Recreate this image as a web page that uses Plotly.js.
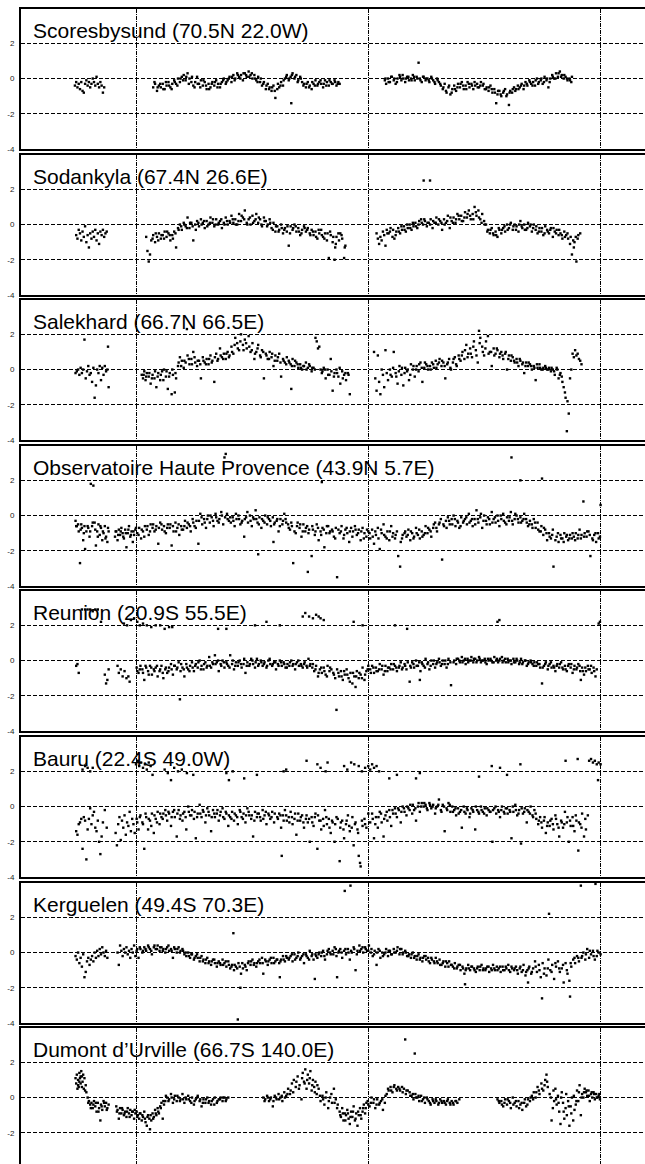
<!DOCTYPE html>
<html><head><meta charset="utf-8">
<script src="https://cdn.plot.ly/plotly-3.0.1.min.js"></script>
<style>html,body{margin:0;padding:0;overflow:hidden;background:#fff}#chart{width:645px;height:1172px}</style>
</head><body><div id="chart"></div>
<script>
// station titles
const stationNames = [
  "Scoresbysund (70.5N 22.0W)",
  "Sodankyla (67.4N 26.6E)",
  "Salekhard (66.7N 66.5E)",
  "Observatoire Haute Provence (43.9N 5.7E)",
  "Reunion (20.9S 55.5E)",
  "Bauru (22.4S 49.0W)",
  "Kerguelen (49.4S 70.3E)",
  "Dumont d\u2019Urville (66.7S 140.0E)"
];
// axis ticks: year boundaries (day number) and anomaly ticks
const yearBoundaryDays = [0, 365, 730];
const yTickValues = [-4, -2, 0, 2];
const yTickLabels = ["-4", "-2", "0", "2"];

// [day, anomaly] pairs
const scoresbysund = [[-96,-0.4],[-94,-0.2],[-92,-0.5],[-90,-0.3],[-88,-0.6],[-86,-0.2],[-84,-0.7],[-82,-0.8],[-80,-0.3],[-78,-0.1],[-76,-0.4],[-74,-0.2],[-72,-0.5],[-70,-0.3],[-68,0.0],[-66,-0.2],[-64,-0.4],[-62,0.1],[-60,-0.3],[-58,-0.5],[-56,-0.2],[-54,-0.4],[-52,-0.8],[-50,-0.5],
[27,-0.5],[30,-0.3],[33,-0.7],[36,-0.4],[39,-0.5],[42,-0.3],[45,-0.6],[48,-0.4],[51,-0.2],[54,-0.5],[57,-0.3],[60,-0.1],[63,-0.3],[66,0.0],[69,-0.2],[72,0.1],[75,0.2],[78,-0.1],[81,0.3],[84,0.0],[87,-0.2],[90,-0.4],
[93,-0.2],[96,0.1],[99,-0.3],[102,-0.1],[105,-0.4],[108,-0.2],[111,-0.6],[114,-0.3],[117,-0.5],[120,-0.2],[123,-0.4],[126,-0.1],[129,-0.3],[132,-0.5],[135,-0.2],[138,0.0],[141,-0.3],[144,-0.1],[147,0.1],[150,-0.2],[153,0.2],
[156,0.0],[159,0.3],[162,0.1],[165,0.2],[168,-0.1],[171,0.3],[174,0.1],[177,0.4],[180,0.2],[183,0.0],[186,0.2],[189,-0.1],[192,0.1],[195,-0.2],[198,-0.4],[201,-0.2],[204,-0.6],[207,-0.3],[210,-0.5],[213,-0.7],[216,-0.4],[219,-1.1],[222,-0.6],[225,-0.5],
[228,-0.2],[231,-0.4],[234,0.0],[237,0.2],[240,-0.1],[243,0.1],[244,-1.4],[246,0.3],[249,0.0],[252,0.2],[255,-0.1],[258,0.1],[261,-0.2],[264,-0.3],[267,-0.5],[270,-0.2],[273,-0.4],[276,-0.6],[279,-0.3],[282,-0.1],[285,-0.4],[288,-0.2],[291,-0.3],[294,-0.5],[297,-0.1],[300,-0.2],[303,-0.4],[306,-0.2],[309,-0.3],[312,-0.1],[315,-0.4],[318,-0.2],
[391,-0.1],[393,-0.3],[396,0.0],[399,-0.2],[402,0.1],[405,-0.1],[408,-0.3],[411,0.0],[414,0.2],[417,-0.1],[420,0.0],[423,-0.2],[426,0.1],[429,-0.1],[432,0.0],[435,0.2],[438,-0.1],[441,0.1],[444,0.9],[446,0.0],[449,-0.2],[452,0.1],[455,-0.1],[458,0.0],[461,-0.2],[464,0.1],[467,-0.1],[470,-0.3],[473,0.0],[476,-0.2],
[479,-0.4],[482,-0.6],[485,-0.3],[488,-0.8],[491,-0.5],[494,-0.9],[497,-0.6],[500,-0.4],[503,-0.7],[506,-0.3],[509,-0.5],[512,-0.2],[515,-0.6],[518,-0.4],[521,-0.2],[524,-0.5],[527,-0.3],[530,-0.6],[533,-0.4],[536,-0.3],[539,-0.5],[542,-0.2],[545,-0.4],[548,-0.6],
[551,-0.5],[554,-0.7],[557,-0.4],[560,-0.8],[563,-0.6],[566,-1.4],[568,-0.9],[571,-0.7],[574,-1.0],[577,-0.8],[580,-0.6],[583,-0.9],[586,-1.5],[588,-0.7],[591,-0.8],[594,-0.5],[597,-0.6],[600,-0.4],
[603,-0.5],[606,-0.3],[609,-0.6],[612,-0.2],[615,-0.4],[618,-0.1],[621,-0.3],[624,-0.2],[627,-0.4],[630,0.0],[633,-0.2],[636,-0.1],[639,-0.3],[642,0.1],[645,-0.1],[648,-0.5],[651,0.0],[654,0.2],[657,0.0],[660,0.3],[663,0.1],[666,0.4],[669,0.2],[672,0.0],[675,0.1],[678,-0.1],[681,0.0],[684,-0.2],
[29,-0.2],[34,-0.5],[38,-0.3],[43,-0.6],[47,-0.2],[52,-0.4],[56,-0.6],[61,-0.2],[65,-0.4],[70,0.0],[74,-0.1],[79,0.1],[83,-0.3],[88,0.1],[92,-0.5],[97,-0.3],[101,-0.5],[106,-0.1],[110,-0.4],[115,-0.6],[119,-0.3],[124,-0.2],[128,-0.5],[133,-0.3],[137,-0.1],[142,-0.2],[146,0.0],[151,0.1],[155,-0.1],[160,0.2],[164,0.0],[169,0.3],[173,0.2],[178,0.1],[182,0.3],[187,0.0],[191,-0.2],[196,0.0],[200,-0.3],[205,-0.4],[209,-0.6],[214,-0.5],[218,-0.7],[223,-0.3],[227,-0.4],[232,-0.1],[236,0.1],[241,0.0],[245,0.2],[250,0.1],[254,-0.2],[259,0.0],[263,-0.4],[268,-0.3],[272,-0.5],[277,-0.2],[281,-0.4],[286,-0.3],[290,-0.1],[295,-0.3],[299,-0.4],[304,-0.1],[308,-0.3],[313,-0.2],[317,-0.3],[320,-0.3],
[392,0.0],[397,-0.2],[401,0.1],[406,0.0],[410,-0.2],[415,0.1],[419,0.2],[424,0.0],[428,0.1],[433,-0.1],[437,0.1],[442,0.0],[447,-0.1],[451,0.1],[456,0.0],[460,-0.1],[465,0.0],[469,-0.2],[474,-0.1],[478,-0.3],[483,-0.5],[487,-0.7],[492,-0.4],[496,-0.8],[501,-0.6],[505,-0.5],[510,-0.3],[514,-0.4],[519,-0.6],[523,-0.3],[528,-0.4],[532,-0.2],[537,-0.5],[541,-0.4],[546,-0.3],[550,-0.6],[555,-0.5],[559,-0.6],[564,-0.8],[569,-0.7],[573,-0.9],[578,-0.7],[582,-1.0],[587,-0.8],[592,-0.6],[596,-0.7],[601,-0.6],[605,-0.4],[610,-0.4],[614,-0.3],[619,-0.2],[623,-0.4],[628,-0.1],[632,-0.3],[637,0.0],[641,-0.2],[646,0.0],[650,-0.2],[655,0.1],[659,0.0],[664,0.3],[668,0.1],[673,0.2],[677,0.0],[682,-0.1],[685,0.1]];

const sodankyla = [[-94,-0.6],[-92,-0.8],[-90,-0.3],[-88,-0.5],[-86,-0.9],[-84,-0.4],[-82,-0.7],[-80,-0.1],[-78,-1.0],[-76,-0.6],[-74,-1.3],[-72,-0.5],[-70,-0.8],[-68,-0.4],[-66,-0.7],[-64,-0.3],[-62,-0.9],[-60,-0.5],[-58,-1.1],[-56,-0.4],[-54,-0.6],[-52,-0.3],[-50,-0.7],[-48,-0.5],[-46,-0.4],
[16,-0.7],[18,-1.5],[20,-2.1],[22,-1.7],[24,-0.9],[27,-0.6],[30,-1.0],[33,-0.7],[36,-0.5],[39,-0.8],[42,-0.6],[45,-0.4],[48,-0.7],[51,-0.5],[54,-0.9],[57,-0.6],[60,-0.4],[63,-1.3],
[66,-0.2],[69,0.0],[72,-0.3],[75,0.1],[78,-0.1],[81,0.4],[84,-0.2],[87,0.1],[90,-0.9],[93,0.0],[96,0.2],[99,-0.1],[102,0.3],[105,0.1],[108,-0.2],
[111,0.2],[114,0.0],[117,0.4],[120,0.1],[123,-0.1],[126,0.3],[129,0.0],[132,0.2],[135,-0.2],[138,0.1],[141,0.4],[144,0.0],[147,0.2],[150,0.5],[153,0.1],[156,0.3],[159,0.0],[162,0.6],[165,0.2],[168,0.4],[171,0.8],[174,0.1],[177,0.3],[180,0.0],[183,0.5],[186,0.2],[189,0.6],[192,0.1],[195,0.3],[198,-0.1],[201,0.4],[204,0.2],[207,0.0],[210,0.3],
[213,-0.2],[216,0.1],[219,-0.4],[222,-0.1],[225,-0.3],[228,0.0],[231,-0.5],[234,-0.2],[237,-0.4],[240,-1.2],[243,-0.1],[246,-0.3],[249,0.0],[252,-0.4],[255,-0.2],[258,-0.6],[261,-0.3],[264,-0.1],[267,-0.4],[270,-0.2],[273,-0.5],[276,-0.3],
[279,-0.6],[282,-0.4],[285,-0.8],[288,-0.5],[291,-0.3],[294,-0.7],[297,-0.5],[300,-0.9],[303,-1.9],[305,-0.4],[306,-0.6],[309,-1.0],[312,-2.0],[313,-1.3],[315,-0.7],[318,-0.5],[321,-0.5],[324,-0.8],[327,-1.9],[328,-1.3],[329,-1.2],
[452,2.5],[462,2.5],
[378,-0.5],[380,-0.8],[382,-1.1],[384,-0.7],[386,-0.9],[388,-0.4],[390,-0.6],[392,-1.2],
[394,-0.3],[397,-0.5],[400,-0.2],[403,-0.7],[406,-0.8],[409,-0.4],[412,-0.2],[415,-0.5],[418,-0.3],[421,-0.1],[424,-0.4],[427,-0.2],[430,0.0],[433,-0.3],[436,-0.1],[439,0.1],[442,-0.2],[445,0.2],
[448,0.3],[451,0.0],[454,0.2],[457,-0.1],[460,0.1],[463,0.3],[466,-0.2],[469,0.1],[472,0.4],[475,0.0],[478,0.2],[481,-0.3],[484,0.3],[487,0.1],[490,0.5],[493,-0.2],[496,0.2],
[499,0.4],[502,0.1],[505,0.6],[508,0.3],[511,0.5],[514,0.2],[517,0.7],[520,0.4],[523,0.8],[526,0.3],[529,0.6],[532,1.0],[535,0.5],[538,0.8],[541,0.3],[544,0.6],[547,0.2],
[550,0.0],[553,-0.3],[556,-0.5],[559,-0.2],[562,-0.6],[565,-0.4],[568,-0.7],[571,-0.3],[574,-0.5],[577,-0.2],[580,-0.4],
[583,0.0],[586,-0.2],[589,0.1],[592,-0.3],[595,0.0],[598,-0.1],[601,-0.4],[604,0.2],[607,-0.2],[610,0.0],[613,-0.3],[616,0.1],[619,-0.1],[622,-0.4],[625,0.0],
[628,-0.3],[631,-0.5],[634,-0.2],[637,-0.4],[640,-0.6],[643,-0.1],[646,-0.3],[649,-0.5],[652,-0.2],[655,-0.7],[658,-0.4],[661,-0.3],[664,-0.6],[667,-0.5],[670,-0.8],[673,-0.4],[676,-0.6],
[679,-0.8],[682,-1.1],[685,-1.7],[687,-0.9],[688,-1.3],[691,-0.7],[692,-2.1],[695,-0.6],[698,-0.5],
[26,-0.8],[31,-0.5],[35,-0.9],[40,-0.6],[44,-0.8],[49,-0.4],[53,-0.6],[58,-0.8],[62,-0.5],[67,-0.3],[71,-0.1],[76,0.0],[80,-0.2],[85,0.1],[89,-0.1],[94,-0.3],[98,0.1],[103,0.0],[107,0.2],[112,-0.1],[116,0.1],[121,0.3],[125,0.0],[130,0.1],[134,0.3],[139,0.0],[143,0.2],[148,0.1],[152,0.3],[157,0.0],[161,0.2],[166,0.5],[170,0.3],[175,0.0],[179,0.4],[184,0.1],[188,0.3],[193,0.4],[197,0.0],[202,0.2],[206,-0.1],[211,0.1],[215,-0.3],[220,-0.1],[224,-0.4],[229,-0.2],[233,-0.3],[238,-0.1],[242,-0.5],[247,-0.2],[251,-0.1],[256,-0.4],[260,-0.5],[265,-0.2],[269,-0.3],[274,-0.6],[278,-0.4],[283,-0.7],[287,-0.3],[292,-0.6],[296,-0.8],[301,-0.5],[310,-0.7],[314,-1.1],[319,-0.9],[323,-0.6],
[395,-0.5],[399,-0.4],[404,-0.3],[408,-0.6],[413,-0.4],[417,-0.1],[422,-0.3],[426,0.0],[431,-0.2],[435,0.1],[440,-0.1],[444,0.0],[449,0.1],[453,0.3],[458,0.1],[462,0.0],[467,0.2],[471,0.1],[476,0.3],[480,0.1],[485,0.0],[489,0.2],[494,0.4],[498,0.1],[503,0.3],[507,0.5],[512,0.2],[516,0.4],[521,0.6],[525,0.5],[530,0.3],[534,0.7],[539,0.4],[543,0.1],[548,0.0],[552,-0.4],[557,-0.3],[561,-0.5],[566,-0.6],[570,-0.2],[575,-0.3],[579,-0.1],[584,-0.3],[588,0.0],[593,-0.1],[597,-0.3],[602,0.0],[606,-0.1],[611,-0.3],[615,-0.2],[620,0.0],[624,-0.2],[629,-0.1],[633,-0.4],[638,-0.2],[642,-0.5],[647,-0.4],[651,-0.3],[656,-0.2],[660,-0.5],[665,-0.3],[669,-0.6],[674,-0.7],[678,-0.5],[683,-0.7],[689,-1.0],[694,-0.8]];

const salekhard = [[-95,-0.2],[-93,-0.1],[-91,0.0],[-89,-0.3],[-87,0.1],[-85,-0.2],[-83,0.0],[-81,1.7],[-79,-0.5],[-77,-0.1],[-75,0.2],[-73,-0.3],[-71,-0.2],[-69,-0.7],[-67,0.1],[-65,-1.6],[-63,-0.9],[-61,0.0],[-59,-0.2],[-57,0.2],[-55,-0.6],[-53,0.1],[-51,-0.3],[-49,0.2],[-47,-0.1],[-45,0.0],[-44,1.3],[-43,-1.0],
[9,-0.3],[11,-0.5],[13,-0.1],[15,-0.6],[17,-0.2],[20,-0.4],[23,-0.8],[26,-0.3],[29,-0.5],[32,-1.0],[35,-0.2],[38,-0.6],[41,-0.1],[44,0.0],[47,-0.4],[50,-1.1],[53,-0.2],[56,-1.4],[58,-0.3],[61,-1.3],[63,-0.5],
[66,0.2],[69,0.7],[72,0.5],[75,0.1],[78,0.4],[80,2.3],[81,0.8],[84,0.3],[87,0.6],[90,1.0],[93,0.4],[96,0.2],
[99,0.5],[102,-0.5],[105,0.7],[108,0.4],[111,0.6],[114,0.3],[117,0.8],[120,0.5],[123,-0.7],[126,0.9],[129,0.6],[132,1.2],[135,0.7],[138,0.9],[141,0.6],[144,1.0],[147,0.8],
[150,1.3],[153,0.9],[156,1.8],[159,1.5],[162,1.1],[165,2.0],[168,1.4],[171,1.7],[174,1.2],[177,1.9],[180,1.0],[183,1.5],[186,0.6],
[189,1.0],[192,1.4],[195,0.8],[198,1.1],[201,-0.5],[204,0.9],[207,0.6],[210,1.0],[213,0.7],[216,0.2],[219,0.8],[222,0.5],[225,0.9],[228,-0.4],[231,0.6],[234,0.4],[237,0.7],
[240,0.5],[243,0.3],[244,-1.1],[246,0.6],[249,0.2],[252,0.4],[255,0.1],[258,0.3],[261,0.0],[264,0.2],[267,0.4],[270,0.1],[273,0.2],[276,-0.1],[279,0.1],[282,1.8],[284,1.6],[286,1.2],[288,1.3],[290,0.0],
[292,-0.2],[295,0.1],[298,-0.5],[301,0.0],[304,-0.3],[306,0.6],[309,-1.2],[312,-0.2],[315,0.0],[318,-0.4],[321,-0.8],[324,-0.1],[327,-0.3],[330,-0.6],[333,-0.2],[336,-1.4],
[374,1.0],[376,-0.5],[378,-1.2],[380,0.8],[382,-0.7],[384,-1.4],[386,0.0],[388,-0.3],[390,-1.0],[392,1.1],[394,-0.2],[396,-0.6],[399,0.0],[402,-0.4],[405,1.0],[408,-0.2],[411,-0.8],[414,0.2],[417,-0.3],[420,-0.9],[423,0.1],[426,-0.1],[429,-0.6],[432,0.3],[435,0.0],[438,-0.4],[441,0.2],[444,-0.1],[447,0.4],[450,-0.7],[453,0.1],[456,0.3],[459,0.0],[462,0.2],
[465,0.4],[468,0.1],[471,0.5],[474,0.3],[477,0.6],[480,0.2],[483,0.4],[486,-0.5],[489,0.3],[492,0.6],[495,0.0],[498,0.4],[501,0.7],[504,0.2],
[507,0.8],[510,0.5],[513,1.0],[516,0.6],[519,1.4],[522,0.9],[525,1.2],[528,0.7],[531,1.6],[534,1.1],[537,0.4],[539,2.2],[541,1.8],[544,1.3],[547,0.8],[550,1.6],[553,1.9],[556,1.0],[559,0.2],[562,1.2],
[565,0.9],[568,1.1],[571,0.7],[574,1.0],[577,0.6],[580,0.9],[583,0.0],[586,0.8],[589,0.5],[592,0.7],
[595,0.4],[598,0.6],[601,0.2],[604,0.5],[607,0.3],[610,-0.2],[613,0.4],[616,0.2],[619,0.3],[622,0.0],[625,0.2],[628,-0.6],[631,0.1],[634,0.3],[637,0.0],[640,0.1],[643,0.2],[646,0.0],[649,0.1],[652,-0.1],
[655,0.0],[658,-0.3],[661,0.1],[664,-0.5],[667,-0.2],[670,-0.7],[672,-1.0],[674,-1.3],[675,-1.6],[677,-3.5],[678,-1.8],[680,-2.5],[682,-0.5],[684,0.0],[686,0.9],[688,0.7],[690,1.1],[692,0.8],[694,0.9],[696,0.6],[698,0.5],[700,0.3],
[12,-0.3],[16,-0.4],[21,-0.2],[25,-0.5],[30,-0.1],[34,-0.4],[39,-0.3],[43,-0.6],[48,-0.1],[52,-0.4],[57,0.0],[62,-0.2],[67,0.4],[71,0.2],[76,0.5],[83,0.6],[88,0.3],[92,0.7],[97,0.5],[101,0.3],[106,0.5],[110,0.3],[115,0.6],[119,0.4],[124,0.7],[128,0.5],[133,0.8],[137,0.6],[142,0.9],[146,0.7],[151,1.0],[155,1.4],[160,1.2],[164,1.6],[169,1.1],[173,1.5],[178,1.3],[182,1.1],[187,0.9],[191,1.2],[196,0.7],[200,1.0],[205,0.8],[209,0.6],[214,0.9],[218,0.5],[223,0.7],[227,0.4],[232,0.5],[236,0.3],[241,0.4],[245,0.2],[250,0.5],[254,0.3],[259,0.1],[263,0.2],[268,0.0],[272,0.3],[277,0.1],[281,0.0],[293,-0.1],[297,0.0],[302,-0.3],[307,-0.1],[311,-0.4],[316,-0.2],[320,0.1],[325,-0.5],[329,-0.2],[334,-0.3],
[400,-0.3],[404,0.1],[409,-0.4],[413,-0.1],[418,0.1],[422,-0.2],[427,0.0],[431,-0.3],[436,0.2],[440,0.0],[445,0.3],[449,0.1],[454,0.4],[458,0.2],[463,0.0],[467,0.3],[472,0.1],[476,0.4],[481,0.5],[485,0.2],[490,0.4],[494,0.1],[499,0.6],[503,0.3],[508,0.6],[512,0.8],[517,1.1],[521,0.7],[526,0.9],[530,1.3],[535,0.8],[540,1.5],[545,1.0],[549,1.2],[554,0.9],[558,1.0],[563,0.8],[567,1.2],[572,0.9],[576,0.8],[581,1.0],[585,0.6],[590,0.8],[594,0.5],[599,0.4],[603,0.6],[608,0.4],[612,0.2],[617,0.4],[621,0.2],[626,0.1],[630,0.3],[635,0.1],[639,0.0],[644,0.1],[648,0.0],[653,0.1],[657,-0.1],[662,0.0],[666,-0.3],[669,-0.4]];

const hauteProvence = [[-95,-0.3],[-93,-0.6],[-88,-2.7],[-91,-0.5],[-87,-0.8],[-85,-0.7],[-83,-1.4],[-81,-0.6],[-80,-1.9],[-78,-0.9],[-71,1.8],[-67,1.7],[-75,-0.7],[-73,-1.2],[-69,-0.6],[-65,-0.4],[-63,-1.7],[-61,-0.9],[-59,-0.5],[-57,-1.1],[-55,-0.7],[-53,-1.4],[-51,-1.0],[-49,-0.6],[-47,-1.2],[-45,-1.5],[-43,-0.9],
[-33,-1.2],[-31,-0.9],[-29,-1.4],[-27,-0.8],[-25,-1.1],[-23,-0.7],[-21,-1.0],[-19,-1.3],[-17,-0.8],[-15,-1.8],[-13,-1.0],[-11,-0.6],[-9,-1.2],[-7,-0.9],[-5,-1.5],[-3,-1.1],[-1,-0.8],
[2,-1.0],[5,-0.7],[8,-1.3],[11,-0.9],[14,-0.6],[17,-0.8],[20,-1.1],[23,-0.5],[26,-0.7],[29,-0.9],[32,-0.6],[35,-1.6],[38,-0.4],[41,-0.8],[44,-0.6],[47,-1.0],[50,-0.5],[53,-0.7],[56,-1.7],[59,-0.9],[62,-0.4],[65,-0.7],[68,-1.1],[71,-0.6],[74,-0.8],[77,-0.3],[80,-0.7],[83,-0.5],
[86,-0.9],[89,-0.2],[92,-0.6],[95,-0.3],[98,-1.6],[101,0.1],[104,-0.5],[107,-0.2],[110,-0.7],[113,0.0],[116,-0.4],[119,-0.1],[122,-0.6],[125,0.1],[128,-0.3],[131,-0.2],[134,0.2],[137,-0.5],[140,-0.1],[143,0.1],[146,-0.3],[139,3.3],[141,3.5],
[149,-0.4],[152,-0.1],[155,-0.6],[158,-0.2],[161,0.0],[164,-0.5],[167,-0.3],[170,-1.2],[173,-0.1],[176,-0.4],[179,0.0],[182,-0.6],[185,-0.2],[188,0.3],[191,-0.4],[192,-2.2],[194,-0.1],[197,-0.7],[200,-0.3],[203,0.0],[206,-0.5],[209,-0.2],[212,-0.6],[215,-0.1],[216,-1.5],[218,-0.4],[221,-0.3],[224,-0.9],[227,-0.2],[230,-0.5],[233,0.1],[236,-0.4],
[239,-0.5],[242,-0.8],[247,-2.7],[245,-0.6],[251,-1.0],[254,-0.4],[257,-0.7],[260,-1.2],[263,-0.5],[270,-3.2],[266,-0.9],[269,-0.6],[276,-2.3],[272,-0.8],[278,-0.8],[281,-1.1],[284,-0.5],[287,-1.4],[290,-0.9],[292,1.9],[293,-0.7],[296,-1.8],[299,-1.0],[302,-0.6],[305,-0.9],[308,-0.8],[311,-1.2],[314,-0.7],[316,-3.5],[320,-1.0],[323,-0.6],[326,-1.3],[329,-0.8],[332,-1.0],[335,-1.5],[338,-0.7],[341,-0.9],[344,-0.6],[347,-1.1],[350,-0.8],[353,-1.4],[356,-0.7],[359,-1.0],[362,-1.2],[365,-0.9],
[368,-1.3],[371,-0.8],[374,-1.6],[377,-1.1],[380,-0.7],[383,-1.9],[386,-1.0],[389,-0.5],[392,-1.2],[395,-0.9],[398,-1.4],[401,-0.6],[404,-1.0],[407,-1.3],[412,-2.3],[410,-0.9],[415,-2.9],[416,-1.5],[419,-1.1],[422,-1.0],[425,-1.2],[428,-0.8],[431,-1.4],[434,-1.0],[437,-1.2],[440,-0.7],[443,-1.1],[446,-1.3],[449,-0.9],[452,-1.1],[455,-0.6],[458,-1.0],[461,-0.8],[464,-1.2],
[467,-0.7],[470,-0.4],[473,-0.9],[476,-0.5],[479,-0.2],[481,-2.5],[484,-0.6],[487,-0.3],[490,-0.1],[493,-0.5],[496,-0.2],[499,0.0],[502,-0.6],[505,-0.3],[508,-0.7],[511,-0.1],[514,-0.4],[517,-0.2],[520,-0.5],[523,0.1],[526,-0.3],[529,-0.6],
[532,-0.2],[535,0.3],[538,-0.4],[541,-0.1],[544,-0.7],[547,0.0],[550,-0.3],[553,-0.1],[556,-0.5],[559,0.2],[562,-0.2],[565,-0.4],[568,0.0],[571,-0.6],[574,-0.2],[577,0.1],[580,-0.4],[583,-0.1],[586,-0.3],[589,0.2],[592,-0.5],[595,-0.2],[598,0.0],[601,-0.4],[604,-0.1],[607,-0.3],[610,0.1],[613,-0.2],[616,-0.6],[619,-0.3],
[590,3.3],[604,2.0],[638,2.1],
[622,-0.5],[625,-0.2],[628,-0.7],[631,-0.4],[634,-0.9],[637,-0.6],[640,-1.1],[643,-0.8],[646,-1.4],[649,-1.0],[652,-1.3],[655,-0.8],[656,-2.9],[661,-1.2],[664,-1.5],[667,-1.1],[670,-1.3],[673,-1.0],[676,-1.2],[679,-1.4],[682,-1.1],[685,-1.3],[688,-1.2],[691,-1.0],[694,-1.3],[697,-0.8],[700,-1.1],[703,0.8],[705,-1.0],[708,-1.2],[714,-2.3],[711,-0.9],[717,-1.3],[720,-1.1],[723,-1.5],[726,-1.0],[729,-1.2],[730,0.6],
[-94,-0.6],[-90,-0.9],[-86,-0.5],[-82,-1.0],[-76,-0.6],[-72,-0.9],[-68,-0.4],[-64,-0.8],[-60,-1.2],[-56,-0.6],[-52,-0.9],[-48,-1.3],[-44,-0.7],[-32,-0.9],[-28,-1.1],[-24,-0.9],[-20,-1.2],[-16,-1.0],[-12,-0.8],[-8,-1.1],[-4,-0.9],[0,-0.7],[4,-1.1],[9,-0.8],[13,-1.2],[18,-0.6],[22,-0.9],[27,-0.5],[31,-0.8],[36,-0.7],[40,-0.5],[45,-0.9],[49,-0.7],[54,-0.5],[58,-0.6],[63,-0.9],[67,-0.5],[72,-0.8],[76,-0.6],[81,-0.4],[85,-0.6],[90,-0.4],[94,-0.7],[99,-0.3],[103,-0.1],[108,-0.4],[112,-0.2],[117,0.0],[121,-0.3],[126,-0.1],[130,-0.4],[135,0.0],[144,-0.2],[148,-0.1],[153,-0.3],[157,0.1],[162,-0.2],[166,-0.4],[171,-0.2],[175,0.2],[180,-0.3],[184,-0.1],[189,-0.2],[193,-0.5],[198,-0.2],[202,-0.4],[207,-0.1],[211,-0.3],[217,-0.5],[222,-0.2],[226,-0.6],[231,-0.3],[235,-0.2],[240,-0.7],[244,-0.4],[249,-0.9],[253,-0.6],[258,-0.5],[262,-0.9],[267,-0.7],[271,-1.0],[277,-0.6],[282,-0.9],[286,-0.7],[291,-1.1],[295,-0.8],[300,-0.6],[304,-1.0],[309,-0.9],[313,-1.3],[318,-0.8],[322,-0.9],[327,-1.1],[331,-0.7],[336,-0.9],[340,-1.2],[345,-0.8],[349,-1.0],[354,-0.9],[358,-1.3],[363,-0.8],[367,-1.0],[372,-1.2],[376,-0.9],[381,-1.3],[385,-0.8],[390,-1.1],[394,-1.3],[399,-0.9],[403,-1.2],[408,-1.1],[418,-1.3],[423,-0.9],[427,-1.1],[432,-0.9],[436,-1.3],[441,-1.0],[445,-0.8],[450,-1.2],[454,-1.0],[459,-0.7],[463,-0.9],[468,-0.5],[472,-0.7],[477,-0.4],[483,-0.5],[488,-0.7],[492,-0.3],[497,-0.5],[501,-0.2],[506,-0.4],[510,-0.6],[515,-0.3],[519,-0.1],[524,-0.4],[528,-0.2],[533,-0.5],[537,-0.2],[542,0.1],[546,-0.3],[551,-0.5],[555,-0.2],[560,-0.4],[564,-0.1],[569,-0.3],[573,0.0],[578,-0.3],[582,-0.5],[587,-0.1],[591,-0.3],[596,0.1],[600,-0.2],[605,-0.4],[609,-0.2],[614,-0.4],[618,-0.5],[623,-0.7],[627,-0.4],[632,-0.8],[636,-0.9],[641,-0.7],[645,-1.0],[650,-1.2],[654,-1.1],[659,-1.4],[663,-1.0],[668,-1.3],[672,-1.5],[677,-1.1],[681,-1.3],[686,-1.0],[690,-1.4],[695,-1.1],[699,-1.3],[704,-1.2],[709,-0.9],[713,-1.1],[718,-1.4],[722,-1.0],[727,-1.3]];

const reunion = [[-94,-0.3],[-92,-0.2],[-90,-0.7],[-49,-0.8],[-47,-1.3],[-45,-1.1],[-43,-0.5],[-29,-0.3],[-27,-0.7],[-24,-0.5],[-21,-0.9],[-18,-0.6],[-15,-1.0],[-12,-0.9],[-10,-1.2],
[-85,2.9],[-80,2.9],[-76,2.9],[-72,2.9],[-68,2.8],[-64,2.9],[-60,2.9],[-55,2.2],
[-19,2.1],[-14,2.0],[-8,2.3],[-3,2.4],[2,2.2],[6,2.0],[11,2.1],[17,2.0],[24,1.9],[31,2.0],[38,2.0],[45,1.8],[52,1.9],[57,1.9],
[129,1.8],[142,1.8],[187,2.0],[205,2.2],[226,2.0],[262,2.5],[266,2.7],[272,2.5],[278,2.4],[283,2.6],[287,2.5],[290,2.4],[295,2.3],[342,2.2],[356,2.0],[407,2.0],[426,1.8],[568,2.2],[571,2.3],[727,2.1],[729,2.2],
[1,-0.4],[4,-0.7],[7,-0.3],[10,-0.5],[13,-1.1],[16,-0.4],[19,-0.6],[22,-0.3],[25,-0.8],[28,-0.5],[31,-0.4],[34,-0.9],[37,-0.6],[40,-0.3],[43,-1.0],[46,-0.5],[49,-0.7],[52,-0.4],[55,-0.2],[58,-0.8],[61,-0.3],[64,-0.5],[67,-0.1],[69,-2.2],[70,-0.6],[73,-0.4],[76,-0.9],[79,-0.2],[82,-0.5],
[85,-0.3],[88,-0.1],[91,-0.6],[94,-0.2],[97,-0.4],[100,0.0],[103,-0.3],[106,-0.5],[109,-0.1],[112,-0.3],[115,0.2],[118,-0.4],[121,-0.2],[124,0.3],[127,-0.1],[130,-0.6],[133,-0.2],[136,0.0],[139,-0.4],[142,-0.1],[145,-0.3],[148,0.3],[151,-0.2],[154,-0.5],[157,-0.1],[160,-0.3],[163,0.0],[166,-0.4],[169,-0.2],[172,-0.7],[175,-0.1],[178,-0.3],[181,0.1],[184,-0.2],[187,-0.4],
[190,0.1],[193,-0.2],[196,0.0],[199,-0.3],[202,-0.1],[205,-0.4],[208,0.0],[211,-0.2],[214,-0.3],[217,-0.1],[220,-0.5],[223,-0.2],[226,0.0],[229,-0.3],[232,-0.1],[235,-0.4],[238,-0.2],[241,-0.3],[244,0.0],[247,-0.2],[250,-0.5],[253,-0.1],[256,-0.3],[259,-0.2],[262,-0.4],[265,-0.1],[268,-0.3],[271,0.1],[274,-0.2],[277,-0.4],
[280,-0.6],[283,-0.3],[286,-0.9],[289,-0.5],[292,-0.7],[295,-0.4],[298,-0.8],[301,-0.3],[304,-0.6],[307,-0.5],
[310,-0.7],[313,-1.0],[315,-2.8],[316,-0.5],[319,-0.9],[322,-0.6],[325,-1.1],[328,-0.8],[331,-0.5],[334,-1.0],[337,-0.7],[340,-1.3],[343,-0.9],[345,-1.5],[347,-0.6],[350,-1.0],[353,-0.8],[356,-0.4],[359,-1.1],[362,-0.6],[365,-0.3],
[368,-0.5],[371,-0.3],[374,-0.7],[377,-0.4],[380,-0.6],[383,-0.2],[386,-0.5],[389,-0.8],[392,-0.3],[395,-0.6],[398,-0.4],[401,-0.2],[404,-0.5],[407,-0.3],[410,-0.6],[413,-0.4],[416,-0.1],[419,-0.4],[422,-0.2],[425,-0.5],[430,-1.2],[431,-0.3],[434,-0.1],[437,-0.4],[440,0.0],[443,-0.3],[446,-1.1],[447,-0.6],[449,-0.1],[452,-0.3],[455,0.1],[458,-0.2],[461,-0.5],[464,0.0],[467,-0.2],[470,-0.4],[473,-0.1],[476,0.1],[479,-0.3],[482,0.0],[485,-0.2],[488,-0.4],[491,0.1],[494,-0.1],[495,-1.4],
[500,0.0],[503,-0.2],[506,0.1],[509,-0.1],[512,0.2],[515,0.0],[518,-0.2],[521,0.1],[524,0.0],[527,0.2],[530,-0.1],[533,0.1],[536,0.0],[539,0.2],[542,-0.1],[545,0.0],[548,0.1],[551,-0.2],[554,0.0],[557,0.1],[560,-0.1],[563,0.2],[566,0.0],[569,-0.1],[572,0.1],[575,0.2],[578,0.0],[581,-0.1],[584,0.1],[587,0.0],[590,-0.2],[593,0.1],[596,-0.1],[599,0.0],[602,-0.2],[605,0.1],[608,-0.1],[611,0.0],[614,-0.3],[617,-0.1],[620,0.0],[623,-0.2],[626,-0.1],[629,-0.3],
[632,-0.2],[635,-0.4],[638,-1.3],[641,-0.3],[644,-0.1],[647,-0.5],[650,-0.2],[653,-0.4],[656,-0.3],[659,-0.6],[662,-0.2],[665,-0.4],[668,-0.1],[671,-0.5],[674,-0.3],[677,-0.6],[680,-0.2],[683,-0.4],[686,-0.7],[689,-0.3],[692,-0.5],[695,-0.2],[698,-0.6],[699,-1.1],[701,-0.4],[704,-0.8],[707,-0.6],[710,-0.3],[713,-0.5],[716,-0.7],[719,-0.4],[722,-0.9],[724,-0.5],
[2,-0.6],[6,-0.5],[11,-0.7],[15,-0.3],[20,-0.8],[24,-0.4],[29,-0.6],[33,-0.3],[38,-0.5],[42,-0.7],[47,-0.4],[51,-0.6],[56,-0.5],[60,-0.3],[65,-0.4],[71,-0.2],[75,-0.5],[80,-0.4],[84,-0.6],[89,-0.4],[93,-0.3],[98,-0.1],[102,-0.5],[107,-0.2],[111,-0.4],[116,-0.3],[120,-0.1],[125,-0.2],[129,0.0],[134,-0.3],[138,-0.1],[143,-0.2],[147,-0.4],[152,0.0],[156,-0.3],[161,-0.1],[165,-0.2],[170,0.1],[174,-0.3],[179,-0.2],[183,0.0],[188,-0.1],[192,-0.3],[197,-0.1],[201,-0.2],[206,-0.3],[210,0.1],[215,-0.2],[219,-0.1],[224,-0.3],[228,-0.1],[233,-0.2],[237,-0.4],[242,-0.1],[246,-0.3],[251,-0.2],[255,0.0],[260,-0.3],[264,-0.2],[269,-0.4],[273,-0.3],[278,-0.2],[282,-0.5],[287,-0.7],[291,-0.4],[296,-0.6],[300,-0.9],[305,-0.4],[311,-0.8],[318,-0.7],[323,-0.9],[327,-0.6],[332,-0.8],[336,-1.2],[341,-0.7],[346,-0.9],[351,-0.7],[355,-1.0],[360,-0.8],[364,-0.5],[369,-0.7],[373,-0.4],[378,-0.6],[382,-0.5],[387,-0.3],[391,-0.6],[396,-0.4],[400,-0.5],[405,-0.2],[409,-0.4],[414,-0.3],[418,-0.5],[423,-0.3],[427,-0.1],[432,-0.4],[436,-0.2],[441,-0.3],[445,-0.1],[450,-0.2],[454,-0.4],[459,-0.1],[463,-0.3],[468,0.0],[472,-0.2],[477,-0.1],[481,-0.2],[486,0.0],[490,-0.2],[499,-0.1],[504,0.1],[508,0.0],[513,-0.1],[517,0.1],[522,-0.1],[526,0.0],[531,0.1],[535,-0.1],[540,0.1],[544,0.0],[549,-0.1],[553,0.1],[558,0.0],[562,-0.1],[567,0.1],[571,0.0],[576,-0.1],[580,0.1],[585,-0.1],[589,0.0],[594,-0.1],[598,0.1],[603,-0.1],[607,-0.2],[612,0.0],[616,-0.2],[621,-0.1],[625,-0.3],[630,-0.1],[634,-0.2],[639,-0.4],[643,-0.2],[648,-0.3],[652,-0.1],[657,-0.4],[661,-0.3],[666,-0.2],[670,-0.4],[675,-0.5],[679,-0.3],[684,-0.2],[688,-0.5],[693,-0.4],[697,-0.3],[702,-0.6],[706,-0.4],[711,-0.5],[715,-0.3],[720,-0.6]];

const bauru = [[-94,-1.4],[-92,-1.6],[-90,-1.0],[-88,-0.9],[-86,-0.7],[-84,-2.4],[-82,-0.6],[-80,-0.8],[-78,-3.0],[-76,-1.3],[-74,-0.7],[-72,-0.1],[-70,-1.0],[-68,-0.5],[-66,-0.3],[-64,-1.2],[-62,-1.4],[-60,-0.8],[-58,-2.0],[-56,-2.7],[-54,-1.7],[-52,-0.9],[-49,-0.2],[-46,-1.2],
[-32,-1.5],[-30,-2.2],[-28,-1.0],[-26,-0.6],[-24,-1.9],[-22,-0.8],[-20,-1.2],[-18,-0.5],[-16,-1.6],[-14,-0.9],[-12,-1.1],[-10,-0.3],[-8,-1.4],[-6,-0.7],[-4,-1.0],[-2,-1.5],
[1,-0.7],[4,-1.3],[7,-0.5],[10,-0.9],[13,-2.4],[16,-0.6],[19,-1.3],[22,-0.8],[25,-0.4],[28,-1.5],[31,-0.7],[34,-0.3],[37,-1.0],[40,-0.6],[43,-0.4],
[46,-0.2],[49,-0.8],[52,-0.4],[55,-1.1],[58,-0.3],[61,-0.6],[64,-1.7],[67,-0.2],[70,-0.5],[73,-0.8],[76,-0.3],[79,-1.3],[82,0.0],[85,-0.5],[88,-0.2],[91,-0.7],[94,-1.8],[97,-0.4],[100,0.1],[103,-0.6],[106,-0.3],[109,-0.9],[112,-0.1],[115,-0.5],[118,-1.4],[121,-0.2],[124,-0.6],[127,-0.4],[130,-0.8],[133,-0.3],[136,-0.1],[139,-0.7],[142,-0.4],[145,-1.1],
[148,-0.6],[151,-0.3],[154,-0.8],[157,-0.5],[160,-1.0],[163,-0.2],[166,-0.6],[169,-0.4],[172,-0.9],[175,-0.1],[178,-0.5],[181,-0.7],[184,-1.7],[187,-0.3],[190,-0.6],[193,-0.4],[196,-0.8],[199,-0.2],[202,-0.5],[205,-1.0],[208,-0.4],[211,-0.7],[214,-0.3],[217,-0.9],[229,-2.8],[222,-0.6],[225,-0.4],[228,-1.2],[231,-0.5],[234,-0.2],[237,-0.8],
[240,-0.6],[243,-0.3],[246,-1.0],[249,-0.7],[252,-1.6],[255,-0.4],[258,-0.8],[261,-0.5],[264,-1.2],[267,-0.7],[270,-0.9],[273,-2.0],[276,-0.6],[279,-1.1],[282,-0.4],[285,-2.4],[288,-0.8],[291,-1.3],[294,-0.7],[297,-0.2],[300,-1.0],
[303,-0.7],[306,-1.5],[309,-0.9],[312,-2.0],[315,-0.6],[320,-3.1],[321,-1.2],[324,-0.8],[327,-1.8],[330,-1.0],[333,-0.5],[336,-1.4],[339,-1.2],[342,-2.2],[345,-0.9],[348,-1.3],[350,-2.8],[352,-3.2],[353,-3.4],[356,-1.1],[359,-0.7],[362,-1.2],[365,-0.4],
[-84,2.1],[-80,2.3],[-76,2.2],[-72,2.0],[-68,2.2],
[0,2.4],[3,2.6],[5,2.3],[8,2.5],[11,2.2],[14,2.4],[17,2.1],[20,2.5],[23,2.3],[26,1.8],
[45,2.1],[50,1.9],[55,1.5],[60,2.2],[66,2.0],[72,2.1],[80,1.9],[90,1.8],
[142,1.9],[146,1.5],[152,2.0],[170,1.6],[190,1.8],
[232,2.0],[236,2.1],[268,2.6],[285,2.4],[290,2.2],[301,2.5],[298,2.0],
[327,2.3],[332,2.1],[338,2.5],[343,2.4],[350,2.3],[355,2.0],[360,2.2],
[365,2.3],[368,2.1],[371,2.4],[374,2.2],[378,2.3],[382,2.0],
[398,1.6],[410,1.8],[440,1.6],[446,1.9],
[539,1.7],[559,2.3],[572,2.2],[583,1.8],[604,2.4],
[675,2.6],[694,2.7],[712,2.6],[715,2.7],[718,2.5],[721,2.6],[724,2.4],[727,2.5],[730,2.4],[726,1.5],
[368,-0.9],[371,-0.4],[374,-1.8],[377,-0.6],[380,-1.2],[383,-0.3],[386,-0.9],[389,-1.7],[392,-0.5],[395,-0.8],[398,-0.2],[401,-1.1],[404,-0.4],[407,-0.1],[410,-0.6],[413,-0.2],[416,-0.9],[419,0.0],[422,-0.3],[425,-0.5],[428,-0.1],[431,0.1],[434,-0.4],[437,-0.2],[440,-0.8],[443,0.0],[446,-0.3],
[449,0.2],[452,0.0],[455,0.1],[458,-0.2],[461,0.2],[464,-0.1],[467,0.1],[470,-0.4],[473,0.0],[476,0.4],[479,-0.2],[482,0.1],[485,-1.4],[488,-0.1],[491,0.2],[494,-0.3],[497,0.0],
[500,-0.2],[503,-0.5],[506,-0.1],[509,-0.3],[512,-1.2],[515,0.0],[518,-0.4],[521,-0.2],[524,-0.6],[527,-0.1],[530,-0.3],[533,-1.3],[536,-0.2],[539,-0.4],[542,0.0],[545,-0.3],[548,-0.1],[551,-0.5],[554,-0.2],[557,-0.3],[560,-2.0],[563,-0.1],[566,-0.4],[569,-0.2],[572,-0.6],[575,0.0],[578,-0.3],[581,-0.1],[584,-0.4],[587,-0.2],[590,-1.8],[593,-0.3],[596,0.1],[599,-0.5],[602,-0.2],[605,-2.1],[608,-0.4],[611,-0.1],[614,-0.9],[617,-0.3],[620,0.0],[623,-0.5],[626,-0.2],
[629,-0.7],[632,-1.0],[635,-0.6],[638,-1.2],[641,-0.8],[644,-1.5],[647,-0.9],[650,-1.1],[653,-0.7],[656,-1.3],[659,-0.5],[662,-1.0],[665,-1.7],[668,-0.8],[671,-1.2],[674,-0.3],[677,-0.9],[680,-2.0],[683,-1.1],[686,-0.6],[689,-1.4],[692,-0.8],[695,-2.5],[698,-1.0],[701,-0.4],[704,-1.7],[707,-1.3],[710,-0.5],
[2,-0.9],[6,-0.6],[11,-1.0],[15,-0.4],[20,-0.7],[24,-1.1],[29,-0.5],[33,-0.9],[38,-0.4],[42,-0.7],[47,-0.5],[51,-0.3],[56,-0.6],[60,-0.2],[65,-0.4],[69,-0.7],[74,-0.4],[78,-0.6],[83,-0.3],[87,-0.5],[92,-0.3],[96,-0.6],[101,-0.4],[105,-0.2],[110,-0.5],[114,-0.3],[119,-0.6],[123,-0.4],[128,-0.2],[132,-0.5],[137,-0.6],[141,-0.3],[146,-0.5],[150,-0.7],[155,-0.4],[159,-0.6],[164,-0.3],[168,-0.7],[173,-0.5],[177,-0.3],[182,-0.5],[186,-0.8],[191,-0.4],[195,-0.6],[200,-0.7],[204,-0.3],[209,-0.5],[213,-0.6],[218,-0.4],[223,-0.7],[227,-0.5],[232,-0.8],[236,-0.5],[241,-0.9],[245,-0.6],[250,-0.4],[254,-0.8],[259,-0.6],[263,-0.9],[268,-0.5],[272,-0.7],[277,-0.9],[281,-0.6],[286,-0.5],[290,-0.8],[295,-1.1],[299,-0.6],[304,-1.2],[308,-0.8],[313,-1.0],[317,-0.7],[322,-0.9],[326,-1.3],[331,-0.8],[335,-1.1],[340,-0.6],[344,-1.0],[349,-1.5],[355,-0.8],[360,-1.0],
[372,-0.7],[376,-1.0],[381,-0.6],[385,-0.4],[390,-0.7],[394,-0.3],[399,-0.6],[403,-0.2],[408,-0.4],[412,-0.1],[417,-0.3],[421,-0.1],[426,0.0],[430,-0.2],[435,0.1],[439,-0.1],[444,0.2],[448,0.0],[453,0.2],[457,-0.1],[462,0.1],[466,0.0],[471,-0.1],[475,0.1],[480,-0.3],[484,0.0],[489,-0.2],[493,0.1],[498,-0.3],[502,-0.1],[507,-0.4],[511,-0.2],[516,-0.3],[520,-0.1],[525,-0.4],[529,-0.2],[534,0.0],[538,-0.3],[543,-0.2],[547,-0.4],[552,-0.1],[556,-0.3],[561,-0.2],[565,0.0],[570,-0.3],[574,-0.2],[579,-0.4],[583,-0.1],[588,-0.3],[592,0.0],[597,-0.2],[601,-0.4],[606,-0.1],[610,-0.3],[615,-0.2],[619,-0.4],[624,-0.6],[628,-0.4],[633,-0.8],[637,-0.9],[642,-0.6],[646,-1.1],[651,-0.8],[655,-1.0],[660,-0.7],[664,-1.2],[669,-0.9],[673,-1.0],[678,-0.6],[682,-0.8],[687,-1.1],[691,-0.5],[696,-0.9],[700,-1.2],[706,-0.7]];

const kerguelen = [[-95,-0.2],[-93,-0.4],[-91,0.0],[-89,-0.6],[-87,-0.3],[-85,-0.8],[-83,-0.1],[-81,-1.4],[-79,-1.1],[-77,-0.5],[-75,-0.3],[-73,-0.7],[-71,-0.4],[-69,-0.2],[-67,-0.5],[-65,0.0],[-63,-0.3],[-61,0.1],[-59,-0.2],[-57,0.2],[-55,-0.1],[-53,0.3],[-51,0.0],[-49,-0.2],[-47,0.1],[-45,-0.3],
[-29,0.0],[-27,-0.7],[-25,0.4],[-23,0.1],[-21,-0.2],[-19,0.2],[-17,0.0],[-15,0.3],[-13,-0.1],[-11,0.1],[-9,-0.3],[-7,0.2],[-5,0.0],[-3,0.4],[-1,-0.2],
[1,0.1],[4,-0.3],[7,0.2],[10,0.0],[13,0.3],[16,0.1],[19,0.4],[22,0.2],[25,-0.1],[28,0.3],[31,0.2],[34,0.4],[37,0.1],[40,0.3],[43,0.2],[46,0.0],[49,0.3],[52,0.1],[55,0.2],[58,-0.3],[61,0.2],[64,0.0],[67,0.3],[70,0.1],[73,0.2],[76,-0.1],
[79,-0.2],[82,0.0],[85,-0.3],[88,-0.1],[91,-0.4],[94,-0.2],[97,-0.3],[100,-0.5],[103,-0.2],[106,-0.4],[109,-0.6],[112,-0.3],[115,-0.5],[118,-0.7],[121,-0.4],[124,-0.6],[127,-0.8],[130,-0.5],[133,-0.7],[136,-0.4],[139,-0.6],[142,-0.8],[145,-0.5],
[148,-0.9],[151,-0.7],[153,1.1],[154,-1.0],[157,-0.8],[160,-3.8],[161,-0.6],[164,-2.0],[165,-1.2],[168,-0.9],[171,-0.7],[174,-1.0],
[177,-0.5],[180,-0.7],[183,-0.4],[186,-0.6],[189,-0.8],[192,-0.5],[195,-0.6],[198,-0.3],[200,-1.2],[204,-0.5],[207,-0.7],[210,-0.4],[213,-0.6],[216,-0.3],[219,-0.5],[226,-1.4],[222,-0.4],[225,-0.6],[228,-0.4],[231,-0.2],[234,-0.5],[237,-0.3],
[240,-0.4],[243,-0.2],[246,-0.5],[249,-0.1],[252,-0.3],[255,0.0],[258,-0.4],[261,-0.2],[264,-0.6],[267,-0.1],[270,-0.3],[273,0.1],[276,-0.2],[279,-0.4],[281,-1.5],[282,-0.1],[285,-0.3],[288,0.0],[291,-0.2],[294,0.1],[297,-0.4],[300,-0.1],
[303,0.2],[306,-0.1],[309,0.1],[312,0.3],[315,-0.2],[316,-1.4],[318,0.0],[321,0.2],[324,-0.3],[327,0.1],[328,3.5],[330,-0.1],[333,0.2],[336,-0.4],[337,3.8],[339,0.0],[342,0.3],[345,-1.0],[348,0.1],[351,0.4],[354,0.2],[357,0.0],[360,0.3],[363,0.1],[366,0.4],
[369,0.0],[372,-0.2],[375,0.1],[378,-0.7],[381,0.2],[384,-0.3],[387,0.0],[390,-0.1],[393,0.2],[396,-0.2],[399,0.1],[402,-0.1],[405,0.2],[408,0.0],[411,0.3],[414,-0.1],[417,0.2],[420,0.0],[423,0.1],[426,-0.2],
[429,-0.1],[432,-0.3],[435,0.0],[438,-0.2],[441,-0.4],[444,-0.1],[447,-0.3],[450,-0.5],[453,-0.2],[456,-0.4],[459,-0.3],[462,-0.6],[465,-0.4],[468,-0.5],[471,-0.3],[474,-0.6],[477,-0.4],[480,-0.7],[483,-0.5],[486,-0.8],[489,-0.6],[492,-0.5],[495,-0.7],
[498,-0.8],[501,-0.6],[504,-0.9],[507,-0.7],[510,-1.0],[513,-0.8],[516,-1.2],[517,-1.8],[519,-0.9],[522,-0.7],[525,-1.0],[528,-0.8],[531,-0.9],[534,-1.1],[537,-0.8],[540,-1.0],[543,-0.7],[546,-0.9],[549,-1.0],[552,-0.8],[555,-1.1],[558,-0.9],[561,-0.7],[564,-1.0],[567,-0.8],[570,-0.9],[573,-1.1],[576,-0.8],[579,-1.0],[582,-0.9],[585,-0.7],[588,-1.1],[591,-0.9],
[594,-1.0],[597,-0.8],[600,-1.2],[603,-0.9],[606,-1.1],[609,-0.7],[612,-1.3],[615,-1.0],[616,-1.7],[618,-0.8],[621,-1.2],[624,-0.9],
[627,-0.5],[630,-1.1],[633,-0.7],[636,-1.4],[638,-2.6],[639,-0.6],[642,-0.9],[645,-1.3],[648,-0.4],[649,2.2],[651,-1.0],[654,-0.7],[657,-1.5],[660,-0.8],[663,-0.5],[666,-1.1],[669,-0.9],[672,-1.7],[675,-0.6],[678,-1.2],[681,-1.6],[682,-2.5],[684,-0.8],[687,-0.4],[690,-0.6],[693,-0.2],[696,-0.5],[699,3.8],[700,-0.3],[703,0.0],[706,-0.4],[709,0.2],[712,-0.3],[715,-0.1],[718,0.1],[721,-0.4],[722,3.9],[724,-0.2],[727,0.0],[730,-0.1],
[2,0.2],[6,0.3],[11,0.1],[15,0.2],[20,0.3],[24,0.1],[29,0.4],[33,0.2],[38,0.3],[42,0.1],[47,0.2],[51,0.4],[56,0.1],[60,0.3],[65,0.2],[69,0.0],[74,0.1],[78,0.0],[83,-0.2],[87,-0.1],[92,-0.3],[96,-0.1],[101,-0.3],[105,-0.5],[110,-0.4],[114,-0.6],[119,-0.5],[123,-0.4],[128,-0.6],[132,-0.6],[137,-0.7],[141,-0.5],[146,-0.7],[150,-0.8],[155,-0.7],[159,-0.9],[163,-0.8],[167,-0.6],[172,-0.8],[176,-0.6],[181,-0.5],[185,-0.7],[190,-0.6],[194,-0.4],[199,-0.6],[203,-0.4],[208,-0.5],[212,-0.3],[217,-0.6],[221,-0.4],[227,-0.5],[232,-0.4],[236,-0.2],[241,-0.3],[245,-0.1],[250,-0.4],[254,-0.2],[259,-0.3],[263,-0.1],[268,-0.2],[272,-0.4],[277,-0.1],[283,-0.2],[287,-0.1],[292,0.0],[296,-0.2],[301,0.1],[305,0.0],[310,-0.1],[314,0.2],[319,0.1],[323,0.0],[329,0.2],[334,0.0],[338,0.1],[343,0.2],[347,-0.1],[352,0.1],[356,0.3],[361,0.2],[365,0.1],[370,0.2],[374,-0.1],[379,0.0],[383,0.1],[388,-0.2],[392,0.0],[397,0.1],[401,-0.1],[406,0.0],[410,0.1],[415,0.2],[419,-0.1],[424,0.0],[428,-0.2],[433,-0.1],[437,-0.3],[442,-0.2],[446,-0.4],[451,-0.3],[455,-0.2],[460,-0.5],[464,-0.3],[469,-0.6],[473,-0.5],[478,-0.7],[482,-0.6],[487,-0.5],[491,-0.8],[496,-0.7],[500,-0.9],[505,-0.8],[509,-0.7],[514,-0.9],[518,-1.0],[523,-0.9],[527,-0.8],[532,-1.0],[536,-0.9],[541,-0.8],[545,-1.0],[550,-0.9],[554,-0.8],[559,-1.0],[563,-0.9],[568,-1.0],[572,-0.8],[577,-1.0],[581,-0.8],[586,-1.0],[590,-0.8],[595,-0.9],[599,-1.0],[604,-0.8],[608,-1.0],[613,-1.1],[617,-0.9],[622,-1.1],[628,-0.8],[634,-1.0],[641,-1.2],[647,-0.9],[653,-1.1],[659,-0.6],[665,-0.9],[671,-0.7],[677,-1.0],[683,-0.6],[689,-0.3],[695,-0.3],[701,-0.2],[707,-0.1],[713,0.1],[719,-0.2],[725,0.1]];

const dumontDUrville = [[-94,0.8],[-93,1.3],[-92,0.5],[-91,1.0],[-90,0.6],[-89,1.4],[-88,1.1],[-87,0.8],[-86,1.5],[-85,1.2],[-84,0.9],[-83,1.3],[-82,0.5],[-81,1.1],[-80,0.4],[-79,0.7],[-78,0.3],[-76,0.0],[-74,-0.2],[-72,-0.4],[-70,-0.3],[-68,-0.6],[-66,-0.2],[-64,-0.5],[-62,-0.8],[-60,-0.3],[-58,-0.6],[-56,-1.3],[-55,-0.4],[-53,-0.7],[-51,-0.2],[-49,-0.5],[-47,-0.3],[-45,-0.6],[-43,-0.4],
[-31,-0.5],[-29,-0.7],[-27,-1.2],[-25,-0.6],[-23,-0.9],[-21,-0.7],[-19,-1.0],[-17,-0.8],[-15,-1.1],[-13,-0.6],[-11,-0.9],[-9,-0.7],[-7,-1.0],[-5,-0.8],[-3,-1.2],[-1,-0.9],
[1,-0.8],[3,-1.0],[5,-1.2],[7,-0.9],[9,-1.3],[11,-1.1],[13,-0.8],[15,-1.4],[17,-1.6],[19,-1.0],[21,-1.2],[22,-1.8],[24,-1.3],[26,-0.9],
[28,-1.1],[30,-0.7],[32,-1.0],[34,-0.6],[36,-0.9],[38,-0.5],[40,-0.3],[42,-1.2],[44,-0.4],
[46,-0.2],[49,0.0],[52,-0.1],[55,0.2],[58,-0.3],[61,0.1],[64,-0.2],[67,0.0],[70,-0.1],[73,0.2],[76,-0.3],[79,-0.1],[82,0.1],[85,-0.2],[88,0.0],[91,-0.4],[94,-0.1],[97,0.1],[100,-0.2],[103,-0.5],[106,-0.1],[109,-0.3],[112,0.0],[115,-0.2],[118,-0.4],[121,-0.1],[124,0.0],[127,-0.3],[130,-0.1],[133,0.0],[136,-0.2],[139,0.0],[142,-0.1],[145,0.0],
[200,0.0],[203,-0.1],[206,0.1],[209,-0.2],[212,0.0],[215,-0.5],[218,0.1],[221,-0.1],[224,0.2],[227,0.0],[230,-0.2],[233,0.3],[236,0.1],
[239,0.5],[242,0.2],[245,0.8],[248,1.0],[251,0.6],[254,1.2],[257,0.7],[260,-0.1],[262,1.4],[264,0.9],[266,1.6],[268,0.5],[270,1.3],[272,0.8],[274,1.5],[276,0.4],[278,1.0],[280,0.6],[282,0.9],[284,0.2],
[287,0.5],[290,-0.2],[293,0.1],[296,-0.4],[299,0.3],[302,-0.6],[305,0.0],[308,-0.3],[311,0.5],[314,-0.1],[317,-0.4],
[320,-0.8],[322,-1.1],[324,-0.6],[326,-1.3],[328,-0.9],[330,-1.0],[332,-0.7],[334,-1.2],[336,-1.5],[338,-0.8],[340,-1.1],[342,-0.5],[344,-1.3],[346,-0.9],[348,-1.6],[350,-1.0],[352,-0.6],[354,-1.2],[356,-0.8],[358,-0.4],[360,-0.9],[362,-0.3],
[364,-0.2],[367,-0.5],[370,0.0],[373,-0.3],[376,-0.6],[379,-0.1],[382,-0.4],[385,-0.2],[388,-0.7],[391,-0.3],[394,0.2],
[397,0.4],[400,0.6],[403,0.3],[406,0.7],[409,0.5],[412,0.6],[415,0.4],[418,0.6],[421,0.5],[424,0.2],[427,0.4],[430,0.3],
[423,3.3],[438,2.5],
[433,0.1],[436,-0.1],[439,0.2],[442,0.0],[445,-0.2],[448,0.1],[451,-0.1],[454,-0.3],[457,0.0],[460,-0.2],[463,-0.4],[466,-0.1],[469,-0.3],[472,-0.2],[475,-0.4],[478,-0.1],[481,-0.3],[484,-0.2],[487,-0.4],[490,-0.1],[493,-0.3],[496,-0.2],[499,-0.4],[502,-0.2],[505,-0.3],[508,-0.1],
[568,-0.1],[571,-0.3],[574,-0.2],[577,-0.5],[580,-0.1],[583,-0.4],[586,-0.2],[589,-0.6],[592,0.0],[595,-0.3],[598,-0.5],[601,-0.2],[604,-0.4],[607,-0.7],[610,-0.3],[613,-0.5],[616,-0.1],
[619,-0.2],[622,0.1],[625,0.3],[628,0.0],[631,0.6],[634,0.2],[637,0.8],[640,0.4],[643,1.0],[645,1.3],[647,0.6],[650,0.2],[653,-1.3],[655,-0.6],[657,-0.2],[659,0.5],[661,-0.4],[663,0.1],[665,-0.8],[667,-1.5],[669,0.3],[671,-0.3],[673,-1.2],[675,-0.6],[677,-1.0],[679,-0.2],[681,-1.6],[683,-0.5],[685,0.0],[687,-1.3],[689,-0.7],[691,-0.4],[693,0.4],[695,-0.2],[697,0.7],[699,-1.0],[701,0.2],[703,0.0],[705,0.5],[707,0.3],[709,0.1],[711,0.4],[713,-0.2],[715,0.2],[717,0.0],[719,0.3],[721,-0.1],[723,0.2],[725,0.0],[727,0.1],[729,-0.1],
[-95,1.1],[-91,0.7],[-89,0.9],[-87,1.2],[-85,0.6],[-75,-0.3],[-71,-0.6],[-67,-0.4],[-63,-0.3],[-59,-0.8],[-54,-0.5],[-50,-0.3],[-46,-0.7],[-30,-0.8],[-26,-0.9],[-22,-0.6],[-18,-0.9],[-14,-0.8],[-10,-1.1],[-6,-0.8],[-2,-0.7],[2,-1.1],[6,-0.9],[10,-1.0],[14,-1.2],[18,-1.1],[23,-1.0],[27,-1.2],[31,-0.9],[35,-0.8],[39,-0.6],[43,-0.2],[47,0.1],[51,-0.2],[56,0.0],[60,-0.1],[65,0.1],[69,-0.2],[74,-0.1],[78,0.0],[83,-0.1],[87,-0.3],[92,-0.2],[96,0.0],[101,-0.1],[105,-0.3],[110,-0.1],[114,-0.3],[119,-0.2],[123,-0.4],[128,-0.2],[132,-0.1],[137,0.0],[141,-0.2],
[202,-0.2],[207,0.0],[211,-0.1],[216,-0.2],[220,0.0],[225,-0.1],[229,0.1],[234,0.0],[238,0.2],[243,0.4],[247,0.3],[252,0.9],[256,0.5],[261,1.1],[265,0.8],[269,1.0],[273,1.1],[277,0.7],[281,0.3],[285,0.7],[289,0.1],[294,-0.1],[298,0.0],[303,-0.2],[307,0.2],[312,-0.3],[316,-0.6],[321,-1.0],[325,-0.9],[329,-1.3],[333,-0.9],[337,-1.1],[341,-0.8],[345,-1.2],[349,-0.8],[353,-1.0],[357,-0.6],[361,-0.6],[365,-0.4],[369,-0.3],[374,-0.1],[378,-0.4],[383,-0.3],[387,-0.1],[392,0.1],[396,0.5],[401,0.4],[405,0.6],[410,0.4],[414,0.5],[419,0.3],[425,0.4],[431,0.1],[435,0.2],[440,0.0],[444,0.1],[449,-0.2],[453,0.0],[458,-0.1],[462,-0.3],[467,-0.2],[471,-0.1],[476,-0.3],[480,-0.2],[485,-0.3],[489,-0.2],[494,-0.4],[498,-0.3],[503,-0.2],
[570,-0.2],[575,-0.4],[579,-0.3],[584,-0.1],[588,-0.3],[593,-0.4],[597,-0.2],[602,-0.6],[606,-0.3],[611,-0.1],[615,-0.4],[620,0.0],[624,-0.1],[629,0.3],[633,0.4],[638,0.5],[642,0.7],[646,0.9],[652,0.0],[656,0.4],[660,-0.1],[664,-0.3],[668,0.0],[672,-0.8],[676,0.2],[680,-0.5],[684,-0.9],[688,0.1],[692,-0.2],[696,0.3],[700,0.0],[704,0.3],[708,0.4],[712,0.1],[716,0.3],[720,0.2],[724,0.0],[728,0.2]];

const stationSeries = [scoresbysund, sodankyla, salekhard, hauteProvence, reunion, bauru, kerguelen, dumontDUrville];

// geometry (pixels)
const FIG_H = 1172, M_T = 9, M_B = 4, M_L = 21;
const plotH = FIG_H - M_T - M_B;
const panelTops = [0, 146, 291, 437, 582, 728, 874, 1019];
const PANEL_PX = 140;
const traces = [];
const layout = {
  width: 645, height: FIG_H,
  margin: {l: M_L, r: 0, t: M_T, b: M_B, pad: 0},
  paper_bgcolor: "#fff", plot_bgcolor: "#fff",
  showlegend: false,
  font: {family: "Liberation Sans, Arial, sans-serif", color: "#000"},
  annotations: []
};
stationSeries.forEach((series, k) => {
  const s = k === 0 ? "" : String(k + 1);
  traces.push({
    type: "scatter", mode: "markers",
    x: series.map(p => p[0]), y: series.map(p => p[1]),
    xaxis: "x" + s, yaxis: "y" + s,
    marker: {symbol: "square", size: 2.4, color: "#000", line: {width: 0}},
    hoverinfo: "skip"
  });
  const top = 1 - panelTops[k] / plotH;
  const bottom = Math.max(0, 1 - (panelTops[k] + PANEL_PX) / plotH);
  layout["xaxis" + s] = {
    domain: [0, 1], anchor: "y" + s, range: [-180.7, 799.8],
    tickvals: yearBoundaryDays, showticklabels: false, ticks: "",
    showgrid: true, gridcolor: "#000", gridwidth: 1, griddash: "4px,1px,1px,1px",
    zeroline: false, showline: true, mirror: true, linecolor: "#000", linewidth: 2
  };
  layout["yaxis" + s] = {
    domain: [bottom, top], anchor: "x" + s, range: [-4, 3.95],
    tickvals: yTickValues, ticktext: yTickLabels, ticks: "", ticklabelstandoff: 3,
    tickfont: {size: 8, color: "#222", family: "Liberation Sans, Arial, sans-serif"},
    showgrid: true, gridcolor: "#000", gridwidth: 1, griddash: "4px,2px",
    zeroline: false, showline: true, mirror: false, linecolor: "#000", linewidth: 2
  };
  layout.annotations.push({
    text: stationNames[k], xref: "paper", x: 0.016, xanchor: "left",
    yref: "y" + s, y: 2.71, yanchor: "middle", showarrow: false,
    font: {size: 21, color: "#000", family: "Liberation Sans, Arial, sans-serif"}
  });
});
Plotly.newPlot("chart", traces, layout, {displayModeBar: false});
</script>
</body></html>
